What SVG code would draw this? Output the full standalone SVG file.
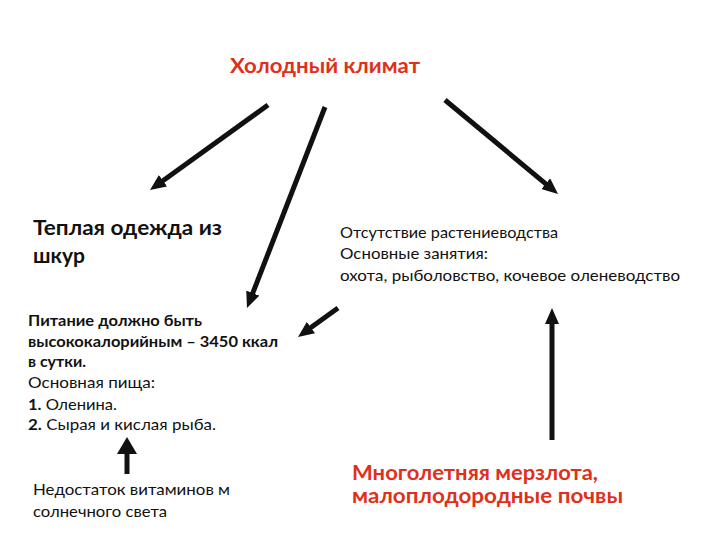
<svg xmlns="http://www.w3.org/2000/svg" width="720" height="540" viewBox="0 0 720 540">
<defs>
<style>
text{font-family:Lato,"Open Sans","Liberation Sans",sans-serif;fill:#111}
.red{fill:#e0301a;font-weight:bold}
.b{font-weight:bold}
.conn line{stroke:#111;stroke-width:5;marker-end:url(#ah)}
.conn line.big{marker-end:url(#ahb)}
</style>
<marker id="ah" markerUnits="userSpaceOnUse" markerWidth="16" markerHeight="14" refX="6" refY="7" orient="auto">
<path d="M0,0 L16,7 L0,14 z" fill="#111"/>
</marker>
<marker id="ahb" markerUnits="userSpaceOnUse" markerWidth="17" markerHeight="20" refX="7" refY="10" orient="auto">
<path d="M0,0 L17,10 L0,20 z" fill="#111"/>
</marker>
</defs>
<rect width="720" height="540" fill="#fff"/>
<g id="connectors" class="conn">
<line x1="268" y1="105" x2="158.1" y2="184.2"/>
<line x1="325" y1="107" x2="250.6" y2="298.7"/>
<line x1="445" y1="100" x2="550.3" y2="187.6"/>
<line x1="338" y1="308" x2="306.1" y2="331.1"/>
<line class="big" x1="127" y1="474" x2="127" y2="447"/>
<line x1="552" y1="440" x2="552" y2="318"/>
</g>
<g id="cold">
<text class="red" x="230" y="73" font-size="20" textLength="190" lengthAdjust="spacingAndGlyphs">Холодный климат</text>
</g>
<g id="clothes">
<text class="b" x="33" y="235" font-size="20" textLength="189" lengthAdjust="spacingAndGlyphs">Теплая одежда из</text>
<text class="b" x="33" y="263" font-size="20" textLength="52" lengthAdjust="spacingAndGlyphs">шкур</text>
</g>
<g id="occupation" font-size="15">
<text x="340" y="238" textLength="218" lengthAdjust="spacingAndGlyphs">Отсутствие растениеводства</text>
<text x="340" y="259" textLength="148" lengthAdjust="spacingAndGlyphs">Основные занятия:</text>
<text x="340" y="281" textLength="340" lengthAdjust="spacingAndGlyphs">охота, рыболовство, кочевое оленеводство</text>
</g>
<g id="food" font-size="15">
<text class="b" x="28" y="326" textLength="174" lengthAdjust="spacingAndGlyphs">Питание должно быть</text>
<text class="b" x="28" y="347" textLength="250" lengthAdjust="spacingAndGlyphs">высококалорийным – 3450 ккал</text>
<text class="b" x="28" y="367" textLength="58" lengthAdjust="spacingAndGlyphs">в сутки.</text>
<text x="28" y="388" textLength="127" lengthAdjust="spacingAndGlyphs">Основная пища:</text>
<text x="28" y="410" textLength="89" lengthAdjust="spacingAndGlyphs"><tspan class="b">1.</tspan> Оленина.</text>
<text x="28" y="430" textLength="188" lengthAdjust="spacingAndGlyphs"><tspan class="b">2.</tspan> Сырая и кислая рыба.</text>
</g>
<g id="vitamins" font-size="15">
<text x="33" y="495" textLength="197" lengthAdjust="spacingAndGlyphs">Недостаток витаминов м</text>
<text x="33" y="517" textLength="134" lengthAdjust="spacingAndGlyphs">солнечного света</text>
</g>
<g id="permafrost">
<text class="red" x="352" y="480" font-size="20" textLength="246" lengthAdjust="spacingAndGlyphs">Многолетняя мерзлота,</text>
<text class="red" x="352" y="503" font-size="20" textLength="271" lengthAdjust="spacingAndGlyphs">малоплодородные почвы</text>
</g>
</svg>
